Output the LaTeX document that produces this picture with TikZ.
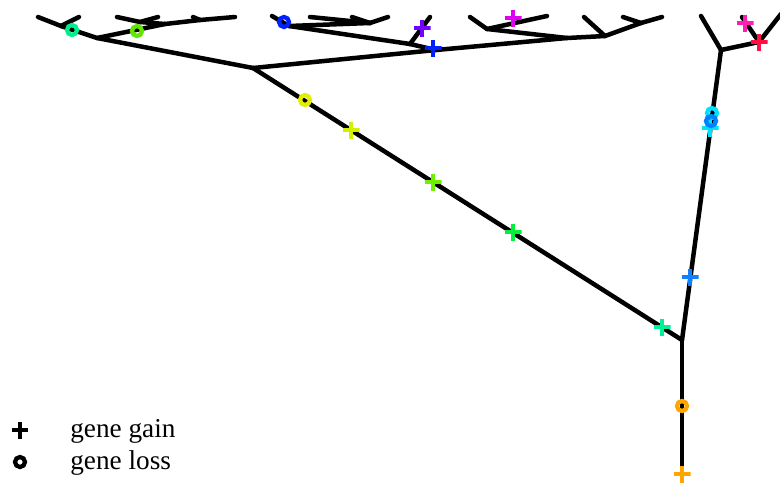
\documentclass[tikz,border=0pt]{standalone}
\usepackage{fontspec}
\setmainfont{Liberation Serif}
\definecolor{cSpring}{RGB}{0,238,140}
\definecolor{cLime}{RGB}{96,230,0}
\definecolor{cBlue}{RGB}{0,32,255}
\definecolor{cPurple}{RGB}{112,0,255}
\definecolor{cMagenta}{RGB}{224,0,240}
\definecolor{cPink}{RGB}{255,30,180}
\definecolor{cRed}{RGB}{255,16,64}
\definecolor{cCyan}{RGB}{0,224,255}
\definecolor{cAzure}{RGB}{0,128,255}
\definecolor{cAzureB}{RGB}{16,128,255}
\definecolor{cSpringB}{RGB}{0,240,150}
\definecolor{cGreen}{RGB}{0,240,60}
\definecolor{cYG}{RGB}{110,240,0}
\definecolor{cYel}{RGB}{210,240,0}
\definecolor{cYel2}{RGB}{225,240,0}
\definecolor{cOrange}{RGB}{255,165,0}
\tikzset{
  branch/.style={line width=0.09cm, line cap=round, line join=round},
  gainmark/.style={rectangle, inner sep=0pt, minimum size=0.34cm,
    path picture={\draw[line width=0.095cm, #1]
      (path picture bounding box.north) -- (path picture bounding box.south)
      (path picture bounding box.west) -- (path picture bounding box.east);}},
  lossmark/.style={circle, draw=#1, line width=0.085cm, inner sep=0pt, minimum size=0.2cm},
  legtext/.style={anchor=west, font=\fontsize{15.5}{18}\selectfont, inner sep=0pt}
}
\begin{document}
\begin{tikzpicture}[x=0.02cm,y=-0.02cm]
\useasboundingbox (0,0) rectangle (780,484);
% tree nodes
\coordinate (root) at (682,477);
\coordinate (R0) at (682,340);
\coordinate (L) at (253,68);
\coordinate (Rt) at (721,50);
\coordinate (N97) at (97,38);
\coordinate (A) at (61,26);
\coordinate (a1) at (38,17);
\coordinate (a2) at (79,17);
\coordinate (B) at (165,24);
\coordinate (C) at (140,22);
\coordinate (c1) at (117,17);
\coordinate (c2) at (158,17);
\coordinate (D) at (200,20);
\coordinate (d1) at (193,17);
\coordinate (d2) at (235,17);
\coordinate (J) at (567,38);
\coordinate (H) at (436,50);
\coordinate (G) at (410,44);
\coordinate (g1) at (430,17);
\coordinate (F) at (289,26);
\coordinate (f1) at (272,16);
\coordinate (E) at (370,23);
\coordinate (e1) at (310,17);
\coordinate (e2) at (352,17);
\coordinate (e3) at (388,17);
\coordinate (I) at (487,29);
\coordinate (i1) at (470,17);
\coordinate (i2) at (547,16);
\coordinate (K) at (605,36);
\coordinate (k1) at (584,17);
\coordinate (M) at (641,23);
\coordinate (m1) at (623,17);
\coordinate (m2) at (662,17);
\coordinate (t1) at (701,16);
\coordinate (Q) at (759,42);
\coordinate (q1) at (742,17);
\coordinate (q2) at (781,14);
% branches
\draw[branch] (root) -- (R0);
\draw[branch] (R0) -- (L);
\draw[branch] (R0) -- (Rt);
\draw[branch] (L) -- (N97);
\draw[branch] (N97) -- (A);
\draw[branch] (A) -- (a1);
\draw[branch] (A) -- (a2);
\draw[branch] (N97) -- (B);
\draw[branch] (B) -- (C);
\draw[branch] (C) -- (c1);
\draw[branch] (C) -- (c2);
\draw[branch] (B) -- (D);
\draw[branch] (D) -- (d1);
\draw[branch] (D) -- (d2);
\draw[branch] (L) -- (H);
\draw[branch] (H) -- (J);
\draw[branch] (H) -- (G);
\draw[branch] (G) -- (g1);
\draw[branch] (G) -- (F);
\draw[branch] (F) -- (f1);
\draw[branch] (F) -- (E);
\draw[branch] (E) -- (e1);
\draw[branch] (E) -- (e3);
\draw[branch] (e2) -- (E);
\draw[branch] (J) -- (I);
\draw[branch] (I) -- (i1);
\draw[branch] (I) -- (i2);
\draw[branch] (J) -- (K);
\draw[branch] (K) -- (k1);
\draw[branch] (K) -- (M);
\draw[branch] (M) -- (m1);
\draw[branch] (M) -- (m2);
\draw[branch] (Rt) -- (t1);
\draw[branch] (Rt) -- (Q);
\draw[branch] (Q) -- (q1);
\draw[branch] (Q) -- (q2);
% events
\node[lossmark=cSpring] (ev1) at (72,30) {};
\node[lossmark=cLime] (ev2) at (137,31) {};
\node[lossmark=cBlue] (ev3) at (284,22) {};
\node[gainmark=cPurple] (ev4) at (422,28) {};
\node[gainmark=cBlue] (ev5) at (433,48) {};
\node[gainmark=cMagenta] (ev6) at (513,18) {};
\node[gainmark=cPink] (ev7) at (745,23) {};
\node[gainmark=cRed] (ev8) at (759,42) {};
\node[lossmark=cYel2] (ev9) at (305,100) {};
\node[gainmark=cYel] (ev10) at (351,130) {};
\node[gainmark=cYG] (ev11) at (433,182) {};
\node[gainmark=cGreen] (ev12) at (513,232) {};
\node[gainmark=cSpringB] (ev13) at (662,327) {};
\node[gainmark=cAzureB] (ev14) at (690,277) {};
\node[gainmark=cCyan] (ev15) at (710,128) {};
\node[lossmark=cCyan] (ev16) at (712,113) {};
\node[lossmark=cAzure] (ev17) at (711,121) {};
\node[lossmark=cOrange] (ev18) at (682,406) {};
\node[gainmark=cOrange] (ev19) at (682,474) {};
% legend
\node[gainmark=black] (lg1) at (20,430) {};
\node[lossmark=black] (lg2) at (20,462) {};
\node[legtext] (lt1) at (70,431) {gene gain};
\node[legtext] (lt2) at (70,463) {gene loss};
\end{tikzpicture}
\end{document}
